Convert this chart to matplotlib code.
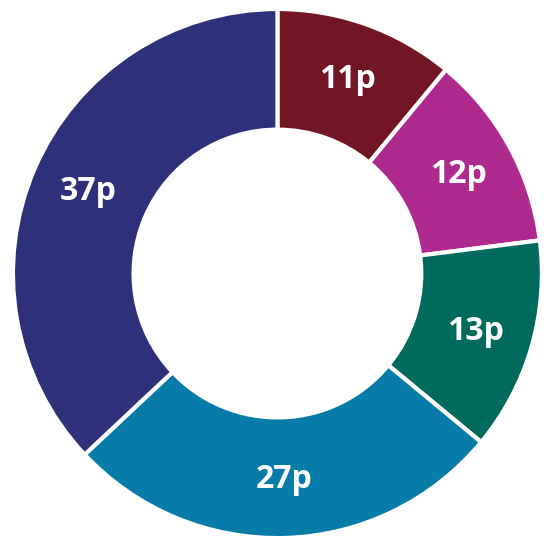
import matplotlib.pyplot as plt

labels = ['11p', '12p', '13p', '27p', '37p']
values = [11, 12, 13, 27, 37]
colors = ['#721626', '#AF2A8F', '#006A5D', '#077CA8', '#2E307A']

fig = plt.figure(figsize=(5.44, 5.37), dpi=100)
ax = fig.add_axes([0, 0, 1, 1])

wedges, texts = ax.pie(values, colors=colors, startangle=90, counterclock=False,
                       radius=1.0, labels=labels, labeldistance=0.78,
                       wedgeprops=dict(width=0.456, edgecolor='white', linewidth=3),
                       textprops=dict(color='white', fontsize=23, fontweight='bold',
                                      family='Open Sans', ha='center', va='center'))

ax.set_aspect('equal', adjustable='datalim')
ax.set_xlim(-1.049, 1.008)
ax.set_ylim(-0.996, 1.034)
ax.axis('off')

fig.savefig('out.png', dpi=100)
